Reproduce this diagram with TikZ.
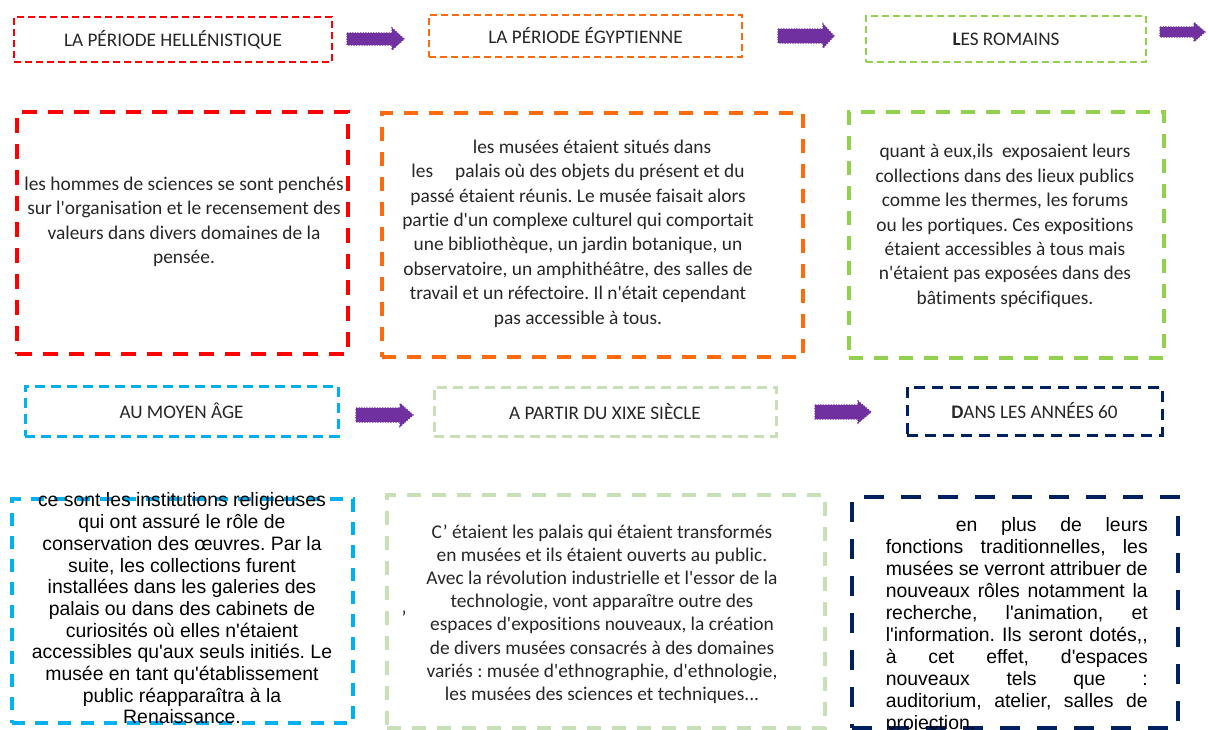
\documentclass[tikz,border=0pt]{standalone}
\usepackage{fontspec}
\setmainfont{Carlito}[Ligatures={TeXOff,NoCommon}]
\newfontfamily\arialf{Liberation Sans}[Ligatures={TeXOff,NoCommon}]
\frenchspacing
\definecolor{cRed}{HTML}{FF0000}
\definecolor{cOrange}{HTML}{FF6A0D}
\definecolor{cGreen}{HTML}{92D050}
\definecolor{cBlue}{HTML}{00B0F0}
\definecolor{cLgreen}{HTML}{C8E0B8}
\definecolor{cNavy}{HTML}{002060}
\definecolor{cPurple}{HTML}{7030A0}
\definecolor{cText}{HTML}{262626}
\newcommand\parrow[6]{\fill[arrowfill] (#1,#3-#4) -- (#6,#3-#4) -- (#6,#3-#5) -- (#2,#3) -- (#6,#3+#5) -- (#6,#3+#4) -- (#1,#3+#4) -- cycle;}
\tikzset{
  box/.style={draw, rectangle, inner sep=0pt, line join=miter},
  titlebox/.style={box, text=cText, font=\fontsize{19.2}{22}\selectfont},
  thintitle/.style={titlebox, line width=1.4pt, dash pattern=on 7pt off 4pt},
  thicktitle/.style={titlebox, line width=3pt, dash pattern=on 10pt off 6pt},
  bigbox/.style={box, line width=3.8pt, dash pattern=on 15pt off 11pt},
  calitext/.style={inner sep=0pt, align=center, text=cText, font=\fontsize{19.4}{24.4}\selectfont},
  arialtext/.style={inner sep=0pt, text=black, font=\arialf\fontsize{19.4}{21.7}\selectfont},
  arrowfill/.style={fill=cPurple, draw=cPurple, line width=1.2pt, dash pattern=on 1.3pt off 1.3pt}
}
\begin{document}
\begin{tikzpicture}[x=1pt, y=-1pt]
\useasboundingbox (0,0) rectangle (1208,729);
% top titles
\node[thintitle, draw=cRed, minimum width=318pt, minimum height=45pt] (t1) at (173,39.5) {LA PÉRIODE HELLÉNISTIQUE};
\node[thintitle, draw=cOrange, minimum width=313pt, minimum height=42pt] (t2) at (585.5,36) {LA PÉRIODE ÉGYPTIENNE};
\node[thintitle, draw=cGreen, minimum width=280pt, minimum height=46pt] (t3) at (1006,39) {\textbf{L}ES ROMAINS};
% arrows top
\parrow{347}{404}{39}{6}{11}{392}
\parrow{778}{834}{36}{7}{12}{823}
\parrow{1160}{1205}{32}{5}{9.5}{1194}
% big boxes row 1
\node[bigbox, draw=cRed, minimum width=331pt, minimum height=242pt] (b1) at (182.5,233) {};
\node[bigbox, draw=cOrange, minimum width=421pt, minimum height=244pt, dash pattern=on 14pt off 11pt] (b2) at (592.5,235) {};
\node[bigbox, draw=cGreen, minimum width=315pt, minimum height=246pt, dash pattern=on 14pt off 11pt] (b3) at (1006.5,235) {};
\node[calitext] (x1) at (184,222) {les hommes de sciences se sont penchés\\sur l'organisation et le recensement des\\valeurs dans divers domaines de la\\pensée.};
\node[calitext] (x2) at (578,233.5) {\hspace*{28pt}les musées étaient situés dans\\les\hspace{22pt}palais où des objets du présent et du\\passé étaient réunis. Le musée faisait alors\\partie d'un complexe culturel qui comportait\\une bibliothèque, un jardin botanique, un\\observatoire, un amphithéâtre, des salles de\\travail et un réfectoire. Il n'était cependant\\pas accessible à tous.};
\node[calitext] (x3) at (1005,226) {quant à eux,ils\ \ exposaient leurs\\collections dans des lieux publics\\comme les thermes, les forums\\ou les portiques. Ces expositions\\étaient accessibles à tous mais\\n'étaient pas exposées dans des\\bâtiments spécifiques.};
% middle titles
\node[thicktitle, draw=cBlue, minimum width=313pt, minimum height=50pt] (m1) at (181.5,411) {AU MOYEN ÂGE};
\node[thicktitle, draw=cLgreen, minimum width=342pt, minimum height=49pt] (m2) at (605,411.5) {A PARTIR DU XIXE SIÈCLE};
\node[thicktitle, draw=cNavy, minimum width=255pt, minimum height=48pt, dash pattern=on 11pt off 7pt] (m3) at (1034.5,411) {\textbf{D}ANS LES ANNÉES 60};
\parrow{356}{413}{415}{7}{11.5}{400}
\parrow{815}{871}{412}{7}{11}{858}
% bottom boxes
\node[bigbox, draw=cBlue, line width=3.4pt, minimum width=341pt, minimum height=224pt, dash pattern=on 13pt off 10pt] (b4) at (182.5,611) {};
\node[bigbox, draw=cLgreen, line width=3.4pt, minimum width=438pt, minimum height=233pt, dash pattern=on 14pt off 11pt] (b5) at (606,611.5) {};
\node[bigbox, draw=cNavy, line width=4pt, minimum width=326pt, minimum height=231pt, dash pattern=on 20pt off 17pt] (b6) at (1015,612.5) {};
\node[arialtext, align=center] (x4) at (182,608.5) {ce sont les institutions religieuses\\qui ont assuré le rôle de\\conservation des œuvres. Par la\\suite, les collections furent\\installées dans les galeries des\\palais ou dans des cabinets de\\curiosités où elles n'étaient\\accessibles qu'aux seuls initiés. Le\\musée en tant qu'établissement\\public réapparaîtra à la\\Renaissance.};
\node[calitext, font=\fontsize{19.4}{23.2}\selectfont] (x5) at (602,614) {C’ étaient les palais qui étaient transformés\\en musées et ils étaient ouverts au public.\\Avec la révolution industrielle et l'essor de la\\technologie, vont apparaître outre des\\espaces d'expositions nouveaux, la création\\de divers musées consacrés à des domaines\\variés : musée d'ethnographie, d'ethnologie,\\les musées des sciences et techniques...};
\node[calitext] (x5b) at (404,618) {’};
\node[arialtext, align=left, font=\arialf\fontsize{19.4}{22}\selectfont] (x6) at (1028,625) {\hspace*{70pt}\makebox[192pt][s]{en plus de leurs}\\\makebox[262pt][s]{fonctions traditionnelles, les}\\\makebox[262pt][s]{musées se verront attribuer de}\\\makebox[262pt][s]{nouveaux rôles notamment la}\\\makebox[262pt][s]{recherche, l'animation, et}\\\makebox[262pt][s]{l'information. Ils seront dotés,,}\\\makebox[262pt][s]{à cet effet, d'espaces}\\\makebox[262pt][s]{nouveaux tels que :}\\\makebox[262pt][s]{auditorium, atelier, salles de}\\projection.\hspace*{195pt}};
\end{tikzpicture}
\end{document}
